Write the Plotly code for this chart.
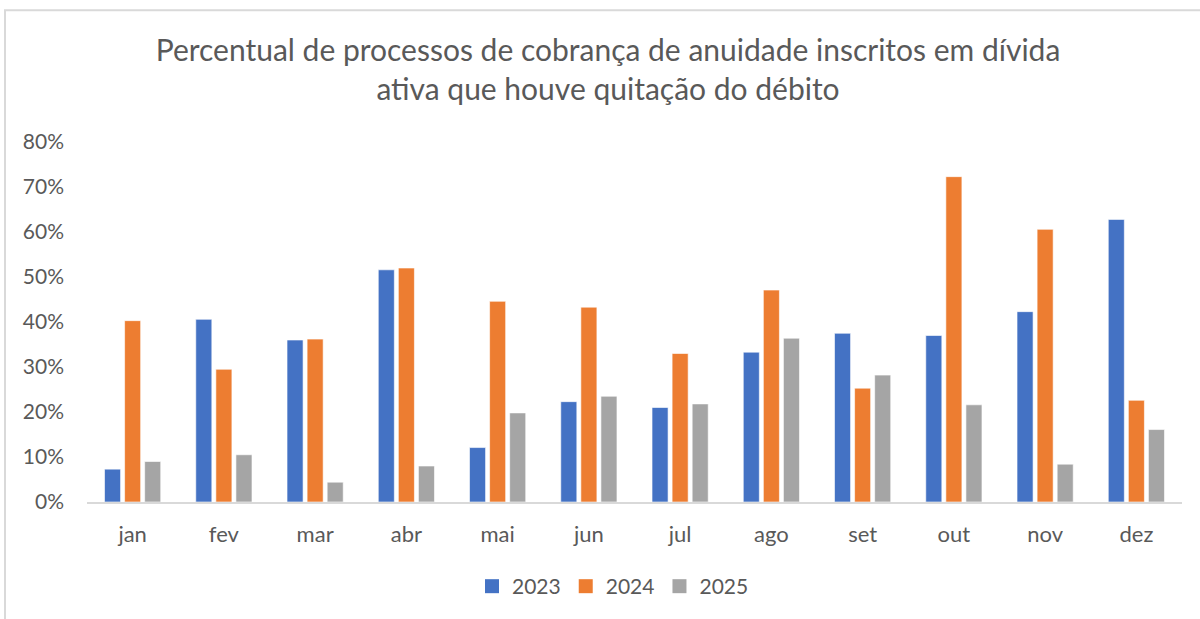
import plotly.graph_objects as go

months = ["jan", "fev", "mar", "abr", "mai", "jun", "jul", "ago", "set", "out", "nov", "dez"]
v2023 = [0.073, 0.406, 0.360, 0.516, 0.121, 0.223, 0.210, 0.333, 0.375, 0.370, 0.423, 0.628]
v2024 = [0.403, 0.295, 0.362, 0.520, 0.446, 0.433, 0.330, 0.471, 0.253, 0.723, 0.606, 0.226]
v2025 = [0.090, 0.105, 0.044, 0.080, 0.198, 0.235, 0.218, 0.364, 0.282, 0.216, 0.084, 0.161]

series = [("2023", v2023, "#4472C4"), ("2024", v2024, "#ED7D31"), ("2025", v2025, "#A5A5A5")]

FONT = "Lato"
W, H = 1200, 619
L, R, T, B = 87, 18, 142, 115

fig = go.Figure()
for name, vals, color in series:
    fig.add_trace(go.Bar(x=months, y=vals, name=name, marker_color=color, showlegend=False,
                         marker_line=dict(color="rgba(255,255,255,0.6)", width=1)))
for name, vals, color in series:
    fig.add_trace(go.Scatter(x=[None], y=[None], mode="markers", name=name,
                             marker=dict(symbol="square", size=14, color=color)))

pw = W - L - R
ph = H - T - B
def px_x(p):
    return (p - L) / pw
def px_y(p):
    return (H - B - p) / ph

fig.update_layout(
    width=W, height=H,
    margin=dict(l=L, r=R, t=T, b=B),
    paper_bgcolor="white", plot_bgcolor="white",
    barmode="group", bargap=0.34, bargroupgap=0.2,
    font=dict(family=FONT, color="#595959"),
    title=dict(text="Percentual de processos de cobrança de anuidade inscritos em dívida<br>ativa que houve quitação do débito",
               x=608 / W, xref="container", xanchor="center", y=1 - 61 / H, yanchor="middle",
               font=dict(family=FONT, size=30, color="#595959", weight=400)),
    xaxis=dict(showgrid=False, showline=True, linecolor="#D9D9D9", linewidth=2,
               ticks="", tickfont=dict(size=22, color="#595959"), ticklabelstandoff=12),
    yaxis=dict(range=[0, 0.8], dtick=0.1, tickformat=".0%", showgrid=False, zeroline=False,
               showline=False, tickfont=dict(size=21, color="#595959"), ticklabelstandoff=22),
    legend=dict(orientation="h", x=px_x(613), xanchor="center",
                y=px_y(589), yanchor="middle", font=dict(size=21, color="#595959"),
                itemwidth=30, traceorder="normal"),
    shapes=[dict(type="rect", xref="paper", yref="paper",
                 x0=px_x(5), x1=px_x(1210), y0=px_y(630), y1=px_y(9.5),
                 line=dict(color="#D9D9D9", width=2), fillcolor="rgba(0,0,0,0)", layer="below")],
)

fig.write_html("out.html", config={"displayModeBar": False},
               post_script="document.body.style.margin='0';")
